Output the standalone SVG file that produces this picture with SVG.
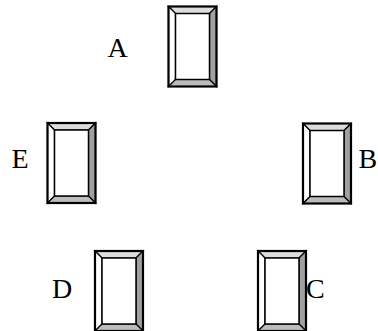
<svg xmlns="http://www.w3.org/2000/svg" width="378" height="331" viewBox="0 0 378 331">
<style>
.lbl{font-family:"Liberation Serif","Times New Roman",serif;font-size:28px;fill:#000}
.ln{stroke:#000;stroke-width:1.2;stroke-linejoin:miter}
</style>
<defs>
<g id="box">
<polygon points="0,0 48,0 41,7 7,7" fill="#dcdcdc" class="ln"/>
<polygon points="0,0 7,7 7,73 0,80" fill="#ffffff" class="ln"/>
<polygon points="48,0 48,80 41,73 41,7" fill="#a0a0a0" class="ln"/>
<polygon points="0,80 7,73 41,73 48,80" fill="#bcbcbc" class="ln"/>
<rect x="7" y="7" width="34" height="66" fill="#fff" stroke="#000" stroke-width="1.5"/>
<rect x="0" y="0" width="48" height="80" fill="none" stroke="#000" stroke-width="2.2"/>
</g>
</defs>
<rect width="378" height="331" fill="#fff"/>
<g id="node-A"><use href="#box" transform="translate(168.5,6.5)"/><text class="lbl" x="107.5" y="57">A</text></g>
<g id="node-E"><use href="#box" transform="translate(47.5,123)"/><text class="lbl" x="11.5" y="168">E</text></g>
<g id="node-B"><use href="#box" transform="translate(303,123.5)"/><text class="lbl" x="358.5" y="168">B</text></g>
<g id="node-D"><use href="#box" transform="translate(95,251)"/><text class="lbl" x="52" y="298">D</text></g>
<g id="node-C"><use href="#box" transform="translate(258,251)"/><text class="lbl" x="306" y="298">C</text></g>
<g id="connectors"></g>
</svg>
